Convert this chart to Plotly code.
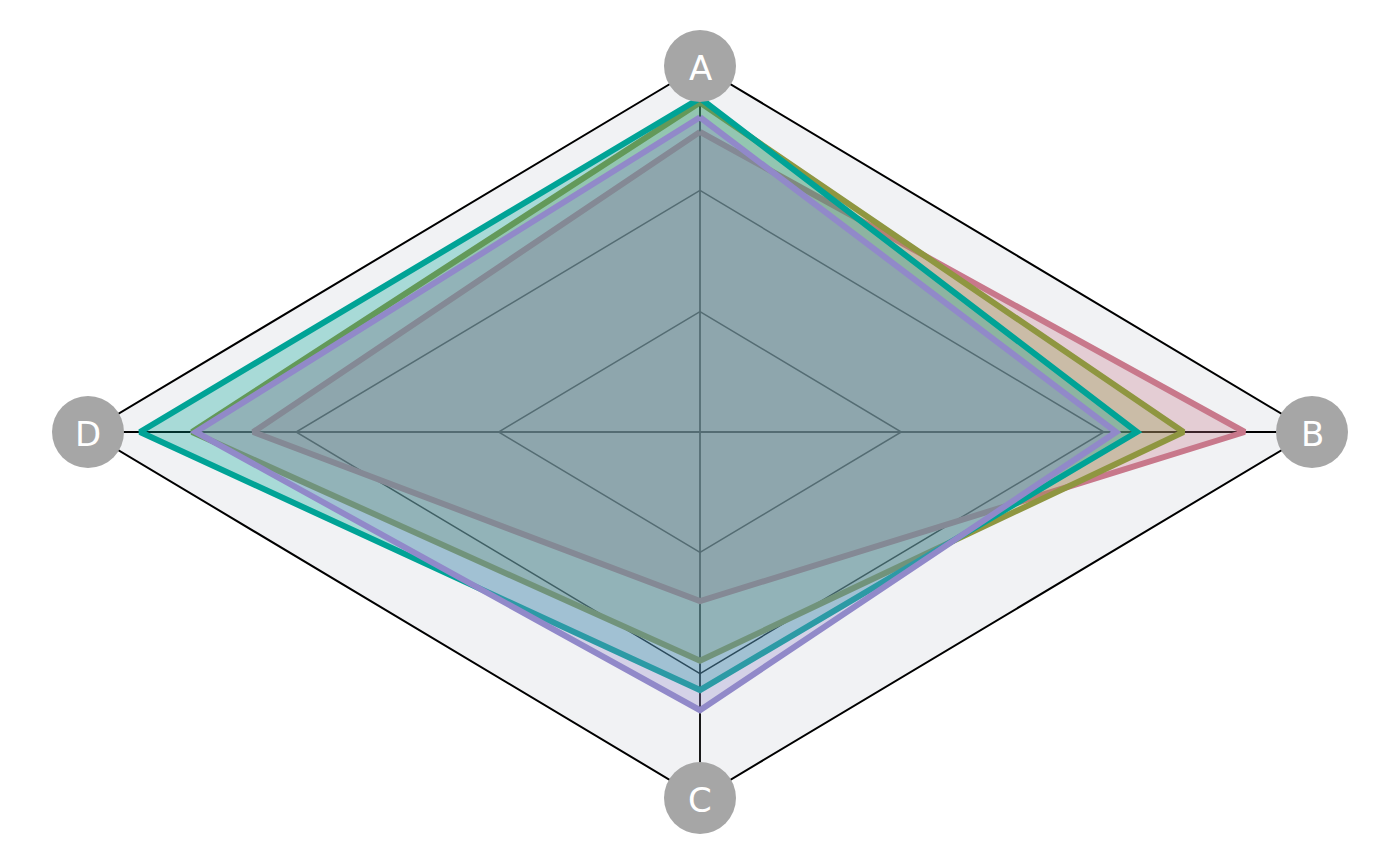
import math
import plotly.graph_objects as go

# ---- data ----
categories = ["A", "B", "C", "D"]
series_names = ["S1", "S2", "S3", "S4"]
s1 = [0.82, 0.89, 0.462, 0.73]
s2 = [0.90, 0.79, 0.625, 0.83]
s3 = [0.912, 0.714, 0.705, 0.915]
s4 = [0.86, 0.68, 0.76, 0.824]
series_values = [s1, s2, s3, s4]
grid_levels = [0.329, 0.66]
max_value = 1.0

colors = ["#c8788b", "#8f9640", "#00a396", "#9189c9"]

angles = [math.pi / 2 * i for i in range(len(categories))]  # A top, clockwise


def to_xy(vals):
    xs = [v * math.sin(a) for v, a in zip(vals, angles)]
    ys = [v * math.cos(a) for v, a in zip(vals, angles)]
    return xs + xs[:1], ys + ys[:1]


def rgba(hexc, a):
    h = hexc.lstrip("#")
    r, g, b = int(h[0:2], 16), int(h[2:4], 16), int(h[4:6], 16)
    return f"rgba({r},{g},{b},{a})"


fig = go.Figure()

# outer frame
ox, oy = to_xy([max_value] * len(categories))
fig.add_trace(go.Scatter(x=ox, y=oy, mode="lines", fill="toself",
                         fillcolor="#f1f2f4", line=dict(color="black", width=2),
                         hoverinfo="skip", showlegend=False))
# inner grid
for lv in grid_levels:
    gx, gy = to_xy([lv] * len(categories))
    fig.add_trace(go.Scatter(x=gx, y=gy, mode="lines",
                             line=dict(color="black", width=1.5),
                             hoverinfo="skip", showlegend=False))
# spokes
for a in angles:
    fig.add_trace(go.Scatter(x=[0, max_value * math.sin(a)], y=[0, max_value * math.cos(a)],
                             mode="lines", line=dict(color="black", width=1.8),
                             hoverinfo="skip", showlegend=False))

# series
for name, vals, c in zip(series_names, series_values, colors):
    sx, sy = to_xy(vals)
    fig.add_trace(go.Scatter(x=sx, y=sy, mode="lines", name=name, fill="toself",
                             fillcolor=rgba(c, 0.3), line=dict(color=c, width=6),
                             showlegend=False))

# category circles
lx = [max_value * math.sin(a) for a in angles]
ly = [max_value * math.cos(a) for a in angles]
fig.add_trace(go.Scatter(x=lx, y=ly, mode="markers",
                         marker=dict(size=72, color="#a6a6a6", line=dict(width=0)),
                         hoverinfo="skip", showlegend=False))
for cat, x, y in zip(categories, lx, ly):
    fig.add_annotation(x=x, y=y, text=cat, showarrow=False, yshift=-2,
                       xanchor="center", yanchor="middle",
                       font=dict(family="DejaVu Sans", size=34, color="white"))

# page body has an 8px margin, so the figure is slightly smaller and offset
W, H = 1392, 858
cx, cy = 692, 424
rx, ry = 612, 366
fig.update_layout(
    width=W, height=H,
    margin=dict(l=0, r=0, t=0, b=0),
    paper_bgcolor="white", plot_bgcolor="white",
    xaxis=dict(range=[-cx / rx, (W - cx) / rx], visible=False, fixedrange=True),
    yaxis=dict(range=[-(H - cy) / ry, cy / ry], visible=False, fixedrange=True),
)

fig.write_html("out.html")
